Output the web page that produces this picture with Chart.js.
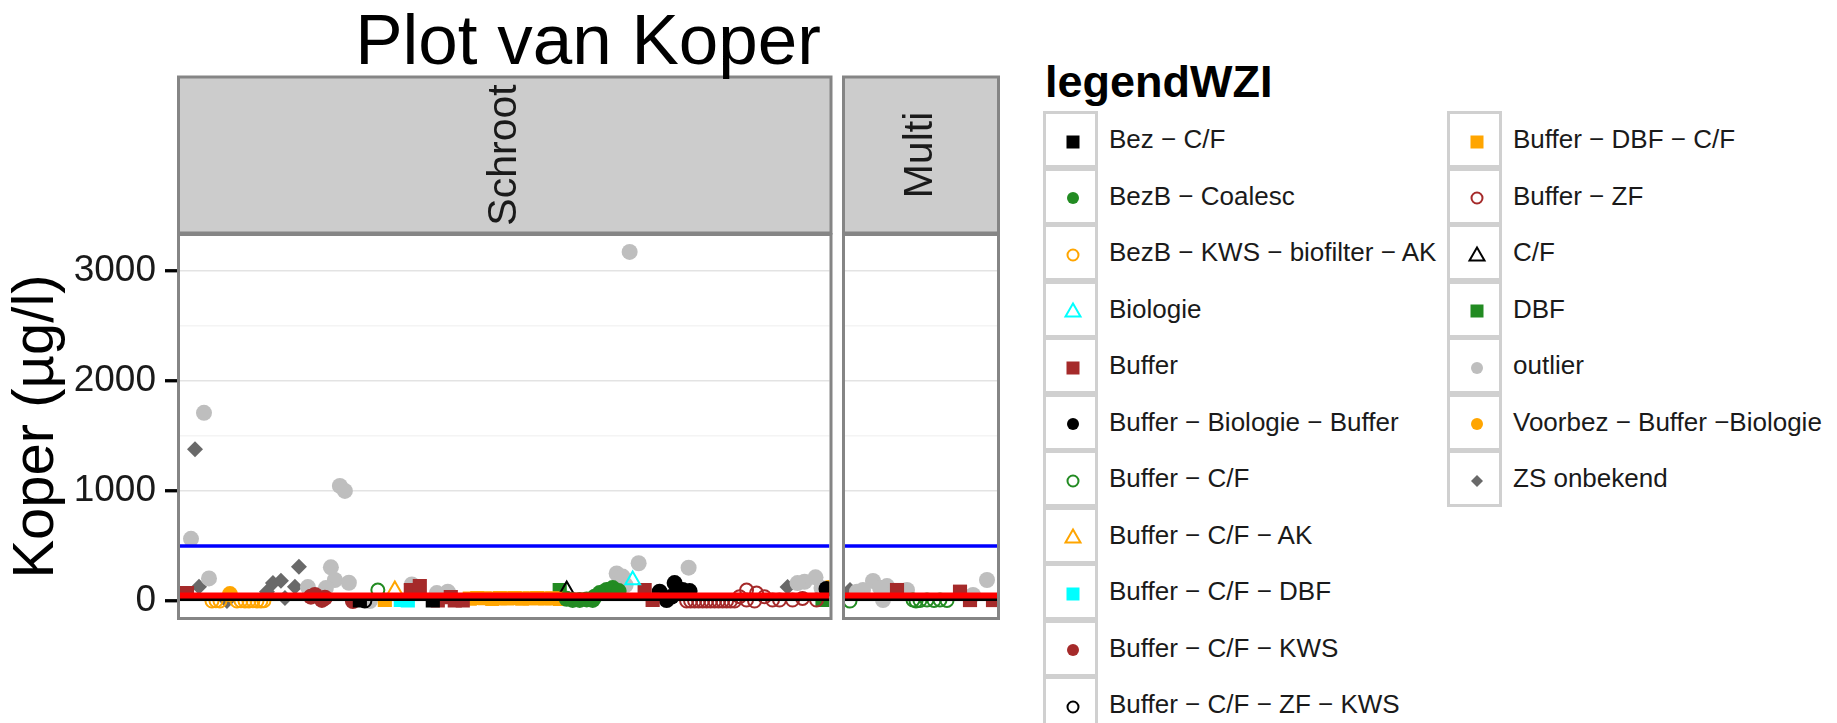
<!DOCTYPE html>
<html>
<head>
<meta charset="utf-8">
<script src="https://cdn.jsdelivr.net/npm/chart.js@4.4.1/dist/chart.umd.min.js"></script>
<style>
  body { margin: 0; background: #fff; width: 1837px; height: 723px; overflow: hidden; position: relative;
         font-family: "Liberation Sans", Arial, sans-serif; }
  #cvA { position: absolute; left: 0; top: 0; }
  #cvB { position: absolute; left: 830px; top: 0; }
  #legend { position: absolute; left: 0; top: 0; }
  .lg-title { position: absolute; left: 1045px; top: 56px; font-weight: bold; font-size: 45px; color: #000; line-height: 52px; }
  .lg-key { position: absolute; width: 55px; height: 57px; box-sizing: border-box; border: 3px solid #d0d0d0; background: #fff; }
  .lg-key svg { position: absolute; left: 13.5px; top: 14.5px; }
  .lg-text { position: absolute; font-size: 26px; color: #1a1a1a; white-space: nowrap; line-height: 30px; }
</style>
</head>
<body>
<canvas id="cvA" width="840" height="723"></canvas>
<canvas id="cvB" width="180" height="723"></canvas>
<div id="legend"></div>
<script>
// Koper per zuiveringstype, gefacet op Schroot / Multi

// ── data ────────────────────────────────────────────────────────────────────
const LABELS = [
  'Bez \u2212 C/F', 'BezB \u2212 Coalesc', 'BezB \u2212 KWS \u2212 biofilter \u2212 AK', 'Biologie',
  'Buffer', 'Buffer \u2212 Biologie \u2212 Buffer', 'Buffer \u2212 C/F', 'Buffer \u2212 C/F \u2212 AK',
  'Buffer \u2212 C/F \u2212 DBF', 'Buffer \u2212 C/F \u2212 KWS', 'Buffer \u2212 C/F \u2212 ZF \u2212 KWS',
  'Buffer \u2212 DBF \u2212 C/F', 'Buffer \u2212 ZF', 'C/F', 'DBF', 'outlier',
  'Voorbez \u2212 Buffer \u2212Biologie', 'ZS onbekend'
];
const COLORS = ['#000000', '#228B22', '#FFA500', '#00FFFF', '#A52A2A', '#000000', '#228B22', '#FFA500',
  '#00FFFF', '#A52A2A', '#000000', '#FFA500', '#A52A2A', '#000000', '#228B22', '#BEBEBE', '#FFA500', '#696969'];
const SHAPES = ['square', 'circle', 'ocircle', 'otriangle', 'square', 'circle', 'ocircle', 'otriangle',
  'square', 'circle', 'ocircle', 'square', 'ocircle', 'otriangle', 'square', 'circle', 'circle', 'diamond'];

const FACETS = ['Schroot', 'Multi'];
const Y_MAJOR = [0, 1000, 2000, 3000];
const Y_MINOR = [500, 1500, 2500];
const Y_RANGE = [-145, 3315];
const X_SCHROOT = [0, 130];
const X_MULTI = [0, 30.4];

const HLINE_VALUES = [15, 50, 500];
const HLINE_COLORS = ['#000000', '#FF0000', '#0000FF'];

// Schroot: [monster-index, koper µg/l]
const sBezCF      = [[36, 5], [50.6, 5]];
const sBezbCoal   = [[77.4, 20], [78.6, 10], [80, 10], [81.4, 15], [82.6, 10], [83, 40], [84, 72], [85.4, 100], [86.6, 118], [87.8, 90]];
const sBezbKws    = [[6.4, 0], [7.2, 2], [8, 0], [11.4, 0], [12.2, 2], [13, 0], [13.8, 0], [14.6, 2], [15.4, 0], [16.2, 0], [16.8, 2]];
const sBiologie   = [[90.6, 190]];
const sBuffer     = [[1.4, 72], [46.2, 100], [48, 136], [51.6, 5], [54.2, 36], [55, 5], [56.6, 5], [93, 100], [94.6, 10]];
const sBufBioBuf  = [[96, 85], [97.4, 9], [98.4, 40], [99, 163], [100.6, 100], [102, 90], [129.4, 110]];
const sBufCF      = [[39.6, 100]];
const sBufCFAK    = [[43, 100]];
const sBufCFDBF   = [[44.2, 9], [45.6, 5]];
const sBufCFKWS   = [[26.2, 40], [27, 55], [28.4, 10], [29, 30], [34.6, 0]];
const sBufCFZFKWS = [[37, 0]];
const sBufDBFCF   = [[41, 9], [58, 22], [59.5, 28], [61, 25], [62.5, 20], [64, 26], [65.5, 24], [67, 28], [68.5, 22], [70, 25], [71.5, 27], [73, 23], [74.5, 25], [76, 20]];
const sBufZF      = [[101.4, 0], [102.2, 0], [103, 0], [103.8, 0], [104.6, 0], [105.4, 0], [106.2, 0], [107, 0], [107.8, 0], [108.6, 0], [109.4, 0], [110.2, 0], [111, 0], [112, 40], [113.4, 100], [113.4, 9], [115, 0], [115.4, 72], [117, 39], [118.6, 9], [120, 9], [122.6, 9], [124.6, 24], [127.4, 9]];
const sCF         = [[77.4, 100]];
const sDBF        = [[76, 100], [128.6, 9]];
const sOutlier    = [[90, 3170], [4.8, 1709], [32, 1045], [33, 1000], [2.2, 565], [5.8, 205], [30.2, 306], [31, 191], [33.8, 166], [29.2, 118], [25.6, 127], [46.4, 150], [53.6, 85], [51.4, 72], [38, 0], [87.4, 250], [88.6, 222], [89.2, 145], [91.8, 343], [101.8, 303], [127.2, 215], [125, 175], [123.6, 163], [128.4, 118]];
const sVoorbez    = [[10, 63], [129.8, 118]];
const sZS         = [[3, 1379], [3.8, 130], [23.8, 312], [20.2, 185], [18.6, 163], [17.4, 85], [23, 130], [21, 27], [9.4, 0], [121.6, 127]];

// Multi
const mOutlier = [[5.6, 182], [8.4, 136], [3.6, 100], [28.4, 191], [2.4, 85], [12.4, 100], [25.6, 55], [7.6, 9], [7, 120]];
const mBuffer  = [[10.4, 100], [23, 85], [25, 9], [29.6, 9]];
const mBufCF   = [[1, 0], [13.6, 9], [14.2, 0], [15, 5], [16.4, 9], [17.8, 5], [19, 9], [20.4, 5]];
const mZS      = [[1, 100]];

const SCHROOT_SERIES = [sBezCF, sBezbCoal, sBezbKws, sBiologie, sBuffer, sBufBioBuf, sBufCF, sBufCFAK,
  sBufCFDBF, sBufCFKWS, sBufCFZFKWS, sBufDBFCF, sBufZF, sCF, sDBF, sOutlier, sVoorbez, sZS];
const MULTI_SERIES = [[], [], [], [], mBuffer, [], mBufCF, [], [], [], [], [], [], [], [], mOutlier, [], mZS];

// ── helpers ─────────────────────────────────────────────────────────────────
const FONT = '"Liberation Sans", Arial, sans-serif';

function pointStyleFor(shape, color) {
  switch (shape) {
    case 'square':    return { pointStyle: 'rect', pointRadius: 10, backgroundColor: color, borderColor: color, borderWidth: 0 };
    case 'circle':    return { pointStyle: 'circle', pointRadius: 8, backgroundColor: color, borderColor: color, borderWidth: 0 };
    case 'ocircle':   return { pointStyle: 'circle', pointRadius: 6.5, backgroundColor: 'rgba(0,0,0,0)', borderColor: color, borderWidth: 2 };
    case 'otriangle': return { pointStyle: 'triangle', pointRadius: 8.5, backgroundColor: 'rgba(0,0,0,0)', borderColor: color, borderWidth: 2 };
    default:          return { pointStyle: 'rectRot', pointRadius: 8, backgroundColor: color, borderColor: color, borderWidth: 0 };
  }
}

function buildDatasets(series, xr) {
  const sets = series.map((pts, i) => Object.assign({
    type: 'scatter',
    label: LABELS[i],
    data: pts.map(p => ({ x: p[0], y: p[1] })),
    order: 10 + i,
    clip: 0
  }, pointStyleFor(SHAPES[i], COLORS[i])));
  HLINE_VALUES.forEach((v, i) => {
    sets.push({
      type: 'line',
      data: [{ x: xr[0], y: v }, { x: xr[1], y: v }],
      borderColor: HLINE_COLORS[i],
      borderWidth: [3, 6, 3.5][i],
      pointRadius: 0,
      order: 2 - i,
      clip: 0
    });
  });
  return sets;
}

// strip + panelrand + titel
const facetPlugin = {
  id: 'facet',
  afterDraw(chart, args, o) {
    const { ctx, chartArea: a } = chart;
    ctx.save();
    const stripBottom = a.top - 3;
    ctx.fillStyle = '#cccccc';
    ctx.fillRect(a.left - 1.5, o.stripTop, a.width + 3, stripBottom - o.stripTop);
    ctx.lineWidth = 3;
    ctx.strokeStyle = '#858585';
    ctx.strokeRect(a.left - 1.5, o.stripTop, a.width + 3, stripBottom - o.stripTop);
    ctx.strokeRect(a.left - 1.5, a.top - 1.5, a.width + 3, a.height + 3);

    ctx.translate((a.left + a.right) / 2, (o.stripTop + stripBottom) / 2);
    ctx.rotate(-Math.PI / 2);
    ctx.fillStyle = '#1a1a1a';
    ctx.font = '41px ' + FONT;
    ctx.textAlign = 'center';
    ctx.textBaseline = 'middle';
    ctx.fillText(o.label, 0, 0);
    ctx.restore();

    if (o.title) {
      ctx.save();
      ctx.fillStyle = '#000';
      ctx.font = '71px ' + FONT;
      ctx.textAlign = 'center';
      ctx.textBaseline = 'alphabetic';
      ctx.fillText(o.title, o.titleX, 64);
      ctx.restore();
    }
  }
};

function yScale(showAxis) {
  return {
    type: 'linear',
    min: Y_RANGE[0],
    max: Y_RANGE[1],
    afterBuildTicks: s => { s.ticks = Y_MAJOR.concat(Y_MINOR).sort((a, b) => a - b).map(v => ({ value: v })); },
    afterFit: s => { s.width = showAxis ? 180 : 0; },
    border: { display: false },
    grid: {
      color: c => (Y_MAJOR.includes(c.tick && c.tick.value) ? '#e3e3e3' : '#f4f4f4'),
      lineWidth: 1.5,
      drawTicks: showAxis,
      tickLength: 15,
      tickWidth: 3.3,
      tickColor: c => (Y_MAJOR.includes(c.tick && c.tick.value) ? '#000000' : 'rgba(0,0,0,0)')
    },
    ticks: {
      display: showAxis,
      padding: 9,
      color: '#1a1a1a',
      font: { family: FONT, size: 37 },
      callback: v => (Y_MAJOR.includes(v) ? String(v) : '')
    },
    title: {
      display: showAxis,
      text: 'Koper (\u00b5g/l)',
      color: '#000',
      font: { family: FONT, size: 58 },
      padding: { top: 2, bottom: 0 }
    }
  };
}

function makePanel(id, facet, series, xr, padding, withTitle) {
  return new Chart(document.getElementById(id), {
    type: 'scatter',
    data: { datasets: buildDatasets(series, xr) },
    options: {
      responsive: false,
      animation: false,
      devicePixelRatio: 1,
      layout: { padding: padding },
      scales: {
        x: { type: 'linear', display: false, min: xr[0], max: xr[1] },
        y: yScale(withTitle)
      },
      plugins: {
        legend: { display: false },
        tooltip: { enabled: false },
        facet: { label: facet, stripTop: 77, title: withTitle ? 'Plot van Koper' : null, titleX: 588 }
      }
    },
    plugins: [facetPlugin]
  });
}

makePanel('cvA', FACETS[0], SCHROOT_SERIES, X_SCHROOT, { left: 0, right: 10, top: 236, bottom: 106 }, true);
makePanel('cvB', FACETS[1], MULTI_SERIES, X_MULTI, { left: 15, right: 13, top: 236, bottom: 106 }, false);

// ── legende (HTML) ──────────────────────────────────────────────────────────
function markerSVG(shape, color) {
  let el;
  if (shape === 'square') el = '<rect x="6.5" y="6.5" width="13" height="13" fill="' + color + '"/>';
  else if (shape === 'circle') el = '<circle cx="13" cy="13" r="6" fill="' + color + '"/>';
  else if (shape === 'ocircle') el = '<circle cx="13" cy="13" r="5.5" fill="none" stroke="' + color + '" stroke-width="2"/>';
  else if (shape === 'otriangle') el = '<polygon points="13,5.5 20.5,18.5 5.5,18.5" fill="none" stroke="' + color + '" stroke-width="2"/>';
  else el = '<polygon points="13,7 19,13 13,19 7,13" fill="' + color + '"/>';
  return '<svg width="26" height="26" viewBox="0 0 26 26">' + el + '</svg>';
}

const legend = document.getElementById('legend');
let html = '<div class="lg-title">legendWZI</div>';
const ROWS = 11, ROW_H = 56.5, TOP = 111;
const COL_X = [1043, 1447];
LABELS.forEach((lab, i) => {
  const col = Math.floor(i / ROWS), row = i % ROWS;
  const y = TOP + row * ROW_H;
  html += '<div class="lg-key" style="left:' + COL_X[col] + 'px;top:' + y + 'px">' + markerSVG(SHAPES[i], COLORS[i]) + '</div>';
  html += '<div class="lg-text" style="left:' + (COL_X[col] + 66) + 'px;top:' + (y + 13) + 'px">' + lab + '</div>';
});
legend.insertAdjacentHTML('beforeend', html);
</script>
</body>
</html>
